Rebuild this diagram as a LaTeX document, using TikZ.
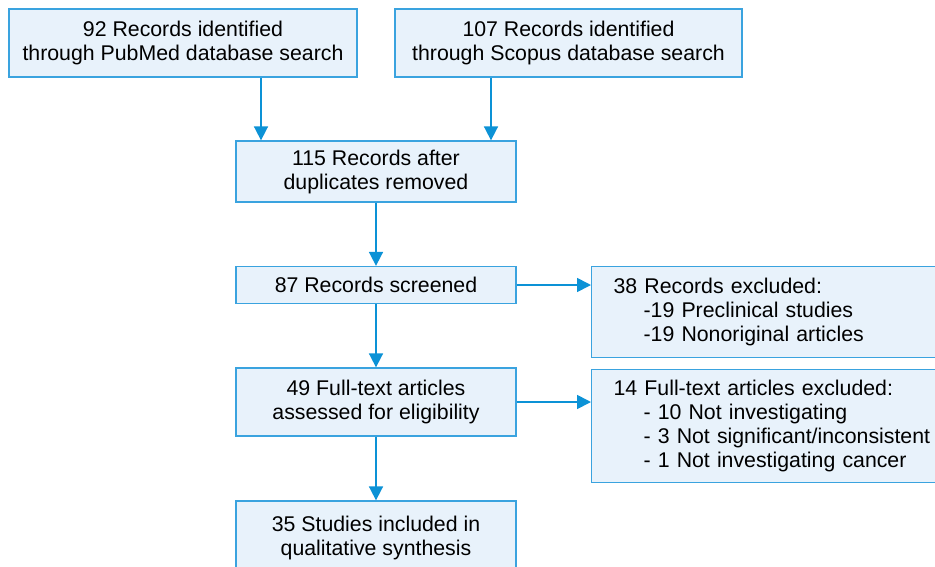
\documentclass[tikz,border=0pt]{standalone}
\usepackage{fontspec}
\setmainfont{Liberation Sans}
\usetikzlibrary{arrows.meta}
\definecolor{boxfill}{HTML}{E8F2FB}
\definecolor{boxline}{HTML}{3AA3DF}
\definecolor{arrowc}{HTML}{0C92D6}
\begin{document}
\begin{tikzpicture}[x=1pt,y=-1pt,
  box/.style={draw=boxline,fill=boxfill,line width=1.3pt,inner sep=0pt,align=center,font=\fontsize{21.3}{24}\selectfont},
  lbox/.style={draw=boxline,fill=boxfill,line width=1.3pt,inner xsep=22pt,inner ysep=0pt,align=left,font=\fontsize{21.3}{24}\selectfont},
  arr/.style={draw=arrowc,line width=1.7pt,-{Triangle[length=14pt,width=14pt]}}]
\useasboundingbox (0,0) rectangle (935,566);
\clip (0,0) rectangle (935,566);
\node[box,minimum width=348pt,minimum height=68pt] (pub) at (183,43) {92 Records identified\\through PubMed database search};
\node[box,minimum width=347pt,minimum height=68pt] (sco) at (568.5,43) {107 Records identified\\through Scopus database search};
\node[box,minimum width=280pt,minimum height=61pt] (dup) at (376,171.5) {115 Records after\\duplicates removed};
\node[box,minimum width=280pt,minimum height=37pt] (scr) at (376,285) {87 Records screened};
\node[box,minimum width=280pt,minimum height=68pt] (full) at (376,402) {49 Full-text articles\\assessed for eligibility};
\node[box,minimum width=280pt,minimum height=74pt] (inc) at (376,538) {35 Studies included in\\qualitative synthesis};
\node[lbox,text width=340pt,minimum height=91pt,anchor=north west] (exA) at (591,266) {38 Records excluded:\\\hspace*{30pt}-19 Preclinical studies\\\hspace*{30pt}-19 Nonoriginal articles};
\node[lbox,text width=340pt,minimum height=113pt,anchor=north west] (exB) at (591,369) {14 Full-text articles excluded:\\\hspace*{30pt}- 10 Not investigating\\\hspace*{30pt}- 3 Not significant/inconsistent\\\hspace*{30pt}- 1 Not investigating cancer};
\coordinate (c1) at (261,0);
\coordinate (c2) at (491,0);
\draw[arr] (pub.south -| c1) -- (dup.north -| c1);
\draw[arr] (sco.south -| c2) -- (dup.north -| c2);
\draw[arr] (dup) -- (scr);
\draw[arr] (scr) -- (full);
\draw[arr] (full) -- (inc);
\draw[arr] (scr.east) -- (scr.east -| exA.west);
\draw[arr] (full.east) -- (full.east -| exB.west);
\end{tikzpicture}
\end{document}
